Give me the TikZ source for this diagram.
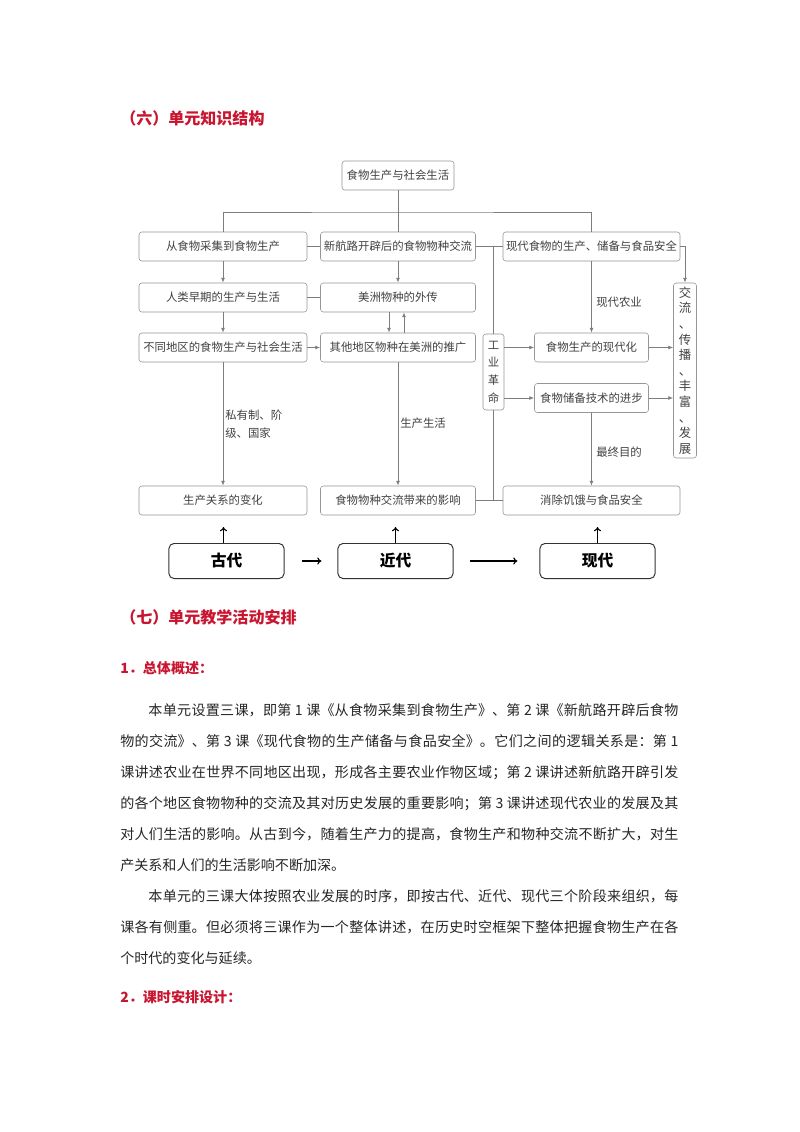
\documentclass[tikz,border=0pt]{standalone}
\usepackage{fontspec}
\setmainfont{Noto Sans CJK SC}
\usetikzlibrary{calc,arrows.meta}
\XeTeXlinebreaklocale "zh"
\XeTeXlinebreakskip=0pt plus 1pt
\definecolor{headred}{RGB}{200,22,48}
\definecolor{linegray}{RGB}{125,125,125}
\definecolor{boxgray}{RGB}{150,150,150}
\definecolor{textgray}{RGB}{65,65,65}

\begin{document}
\begin{tikzpicture}[x=0.025cm,y=-0.025cm,
  object/.style={draw=boxgray,rounded corners=2pt,fill=white,text=textgray,inner sep=0pt,minimum height=0.725cm,font=\fontsize{8.1}{10}\selectfont},
  link/.style={draw=linegray,line width=0.6pt},
  arrow/.style={link,-{Latex[length=3.5pt,width=2.8pt]}},
  era/.style={draw=black!80,rounded corners=3.5pt,line width=0.7pt,minimum width=2.875cm,minimum height=0.875cm,font=\fontsize{11.2}{13}\selectfont\bfseries},
  era arrow/.style={-{To[length=3pt,width=5pt]},line width=0.8pt},
  heading/.style={anchor=west,inner sep=0pt,text=headred,font=\fontsize{11.4}{13}\selectfont\bfseries},
  note/.style={anchor=west,inner sep=0pt,text=textgray,font=\fontsize{8.1}{12.4}\selectfont},
  body/.style={anchor=base west,inner sep=0pt,text=black!85,text width=13.95cm,align=justify,font=\fontsize{10}{22.05}\selectfont}]
  \useasboundingbox (0,0) rectangle (800,1132);
  \fill[white] (0,0) rectangle (800,1132);

  \node[heading] (sec six) at (120,118) {（六）单元知识结构};

  \node[object,minimum width=2.8cm] (root) at (398,175.5) {食物生产与社会生活};
  \node[object,minimum width=4.2cm] (gather) at (223,246.5) {从食物采集到食物生产};
  \node[object,minimum width=3.875cm] (voyage) at (398,246.5) {新航路开辟后的食物物种交流};
  \node[object,minimum width=4.425cm] (modern food) at (591.5,246.5) {现代食物的生产、储备与食品安全};

  \node[object,minimum width=4.2cm] (early) at ($ (gather) + (0,51) $) {人类早期的生产与生活};
  \node[object,minimum width=3.875cm] (outflow) at ($ (voyage) + (0,51) $) {美洲物种的外传};
  \node[object,minimum width=4.2cm] (regions) at ($ (early) + (0,50) $) {不同地区的食物生产与社会生活};
  \node[object,minimum width=3.875cm] (inflow) at ($ (outflow) + (0,50) $) {其他地区物种在美洲的推广};

  \node[object,minimum width=2.85cm] (modernise) at (591.5,347.5) {食物生产的现代化};
  \node[object,minimum width=2.85cm] (storage) at (591.5,398) {食物储备技术的进步};
  \node[object,minimum width=0.525cm,minimum height=1.9cm,align=center,font=\fontsize{8.1}{12.6}\selectfont] (industry) at (493.5,372) {工\\业\\革\\命};
  \node[object,minimum width=0.575cm,minimum height=4.375cm,align=center,font=\fontsize{8.8}{11.1}\selectfont] (spread) at (685,370.5) {交\\流\\、\\传\\播\\、\\丰\\富\\、\\发\\展};

  \node[object,minimum width=4.2cm] (relations) at (223,500.5) {生产关系的变化};
  \node[object,minimum width=3.875cm] (impact) at (398,500.5) {食物物种交流带来的影响};
  \node[object,minimum width=4.425cm] (safety) at (591.5,500.5) {消除饥饿与食品安全};

  \node[era] (ancient) at (226.5,561) {古代};
  \node[era] (recent) at (395.5,561) {近代};
  \node[era] (present) at (597.5,561) {现代};

  \node[note,align=left] (class) at (225,424) {私有制、阶\\级、国家};
  \node[note] (living) at (400,423) {生产生活};
  \node[note] (farming) at (596,302) {现代农业};
  \node[note] (goal) at (596,452) {最终目的};

  \coordinate (fork) at (398,212);
  \draw[link] (root) -- (voyage);
  \draw[link] (gather) |- (fork) -| (modern food);
  \draw[link] (gather) -- (voyage);
  \draw[link] (voyage) -- (modern food);
  \draw[link] (early) -- (outflow);
  \draw[link] (industry) -- (industry |- voyage);
  \draw[link] (industry) -- (industry |- impact);
  \draw[link] (impact) -- (safety);

  \draw[arrow] (gather) -- (early);
  \draw[arrow] (early) -- (regions);
  \draw[arrow] (regions) -- (relations);
  \draw[arrow] (voyage) -- (outflow);
  \draw[arrow] ([xshift=-0.225cm]outflow.south) -- ([xshift=-0.225cm]inflow.north);
  \draw[arrow] ([xshift=0.15cm]inflow.north) -- ([xshift=0.15cm]outflow.south);
  \draw[arrow] (regions) -- (inflow);
  \draw[arrow] (inflow) -- (impact);
  \draw[arrow] (modern food) -- (modernise);
  \draw[arrow] (modern food) -| (spread);
  \draw[arrow] (industry.east |- modernise) -- (modernise);
  \draw[arrow] (industry.east |- storage) -- (storage);
  \draw[arrow] (modernise) -- (modernise -| spread.west);
  \draw[arrow] (storage) -- (storage -| spread.west);
  \draw[arrow] (storage) -- (safety);

  \coordinate (ancient tip) at (223.5,527);
  \coordinate (recent tip) at (395.5,527);
  \coordinate (present tip) at (597.5,527);
  \draw[era arrow] (ancient tip |- ancient.north) -- (ancient tip);
  \draw[era arrow] (recent) -- (recent tip);
  \draw[era arrow] (present) -- (present tip);
  \draw[era arrow,shorten <=0.425cm,shorten >=0.4cm] (ancient) -- (recent);
  \draw[era arrow,shorten <=0.4cm,shorten >=0.55cm] (recent) -- (present);

  \node[heading] (sec seven) at (120,617) {（七）单元教学活动安排};
  \node[heading,font=\fontsize{10}{12}\selectfont\bfseries] (overview) at (120,668) {1．总体概述：};
  \node[body] (text) at (120,715.3) {\hspace*{2em}本单元设置三课，即第 1 课《从食物采集到食物生产》、第 2 课《新航路开辟后食物\linebreak
物的交流》、第 3 课《现代食物的生产储备与食品安全》。它们之间的逻辑关系是：第 1\linebreak
课讲述农业在世界不同地区出现，形成各主要农业作物区域；第 2 课讲述新航路开辟引发\linebreak
的各个地区食物物种的交流及其对历史发展的重要影响；第 3 课讲述现代农业的发展及其\linebreak
对人们生活的影响。从古到今，随着生产力的提高，食物生产和物种交流不断扩大，对生\linebreak
产关系和人们的生活影响不断加深。\par
\hspace*{2em}本单元的三课大体按照农业发展的时序，即按古代、近代、现代三个阶段来组织，每\linebreak
课各有侧重。但必须将三课作为一个整体讲述，在历史时空框架下整体把握食物生产在各\linebreak
个时代的变化与延续。};
  \node[heading,font=\fontsize{10}{12}\selectfont\bfseries] (schedule) at (120,997) {2．课时安排设计：};
\end{tikzpicture}
\end{document}
